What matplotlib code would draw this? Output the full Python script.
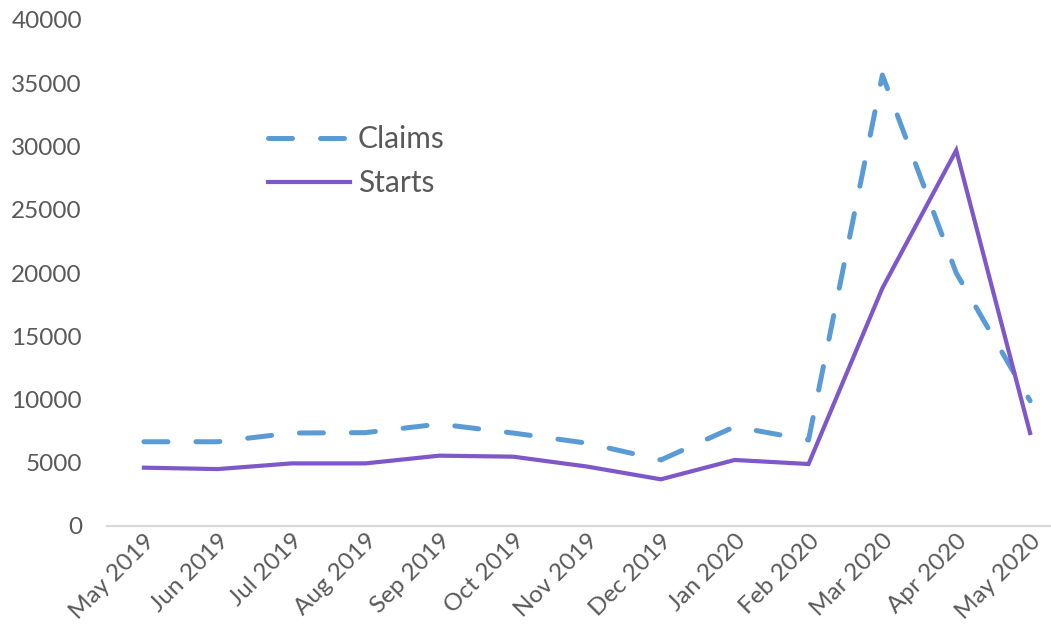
import matplotlib.pyplot as plt

plt.rcParams['font.family'] = ['Lato', 'DejaVu Sans']

# data
months = ['May 2019', 'Jun 2019', 'Jul 2019', 'Aug 2019', 'Sep 2019', 'Oct 2019',
          'Nov 2019', 'Dec 2019', 'Jan 2020', 'Feb 2020', 'Mar 2020', 'Apr 2020', 'May 2020']
claims = [6660, 6660, 7350, 7380, 8060, 7350, 6550, 5220, 7850, 6800, 35650, 20000, 9900]
starts = [4610, 4500, 4950, 4950, 5560, 5480, 4700, 3690, 5220, 4900, 18800, 29700, 7350]
yticks = [0, 5000, 10000, 15000, 20000, 25000, 30000, 35000, 40000]

text_col = '#595959'

fig = plt.figure(figsize=(10.51, 6.43), dpi=100)
# the right edge runs past the picture, as in the reference
ax = fig.add_axes([107 / 1051, 117 / 643, 960 / 1051, (526 - 20) / 643])

x = list(range(len(months)))
ax.plot(x, claims, color='#5B9BD5', lw=3.6, dashes=(4.8, 5.6),
        dash_capstyle='round', solid_capstyle='round', label='Claims')
ax.plot(x, starts, color='#7E57C8', lw=3.0, solid_joinstyle='miter', label='Starts')

ax.set_xlim(-0.5, len(months) - 0.5)
ax.set_ylim(0, 40000)
ax.set_yticks(yticks)
ax.set_yticklabels([str(v) for v in yticks])
ax.set_xticks(x)
ax.set_xticklabels(months, rotation=45, ha='right', rotation_mode='anchor')

for s in ['top', 'right', 'left']:
    ax.spines[s].set_visible(False)
ax.spines['bottom'].set_color('#D9D9D9')
ax.spines['bottom'].set_linewidth(1.5)
ax.tick_params(axis='both', length=0, labelcolor=text_col, labelsize=17.5)
ax.tick_params(axis='y', pad=18)
ax.tick_params(axis='x', pad=3)

leg = ax.legend(loc='upper left', bbox_to_anchor=(268 / 1051, 1 - 125 / 643),
                bbox_transform=fig.transFigure, frameon=False, fontsize=21.5,
                borderaxespad=0, borderpad=0,
                handlelength=2.75, handletextpad=0.25, labelspacing=0.55)
for t in leg.get_texts():
    t.set_color(text_col)

fig.savefig('out.png', dpi=100)
